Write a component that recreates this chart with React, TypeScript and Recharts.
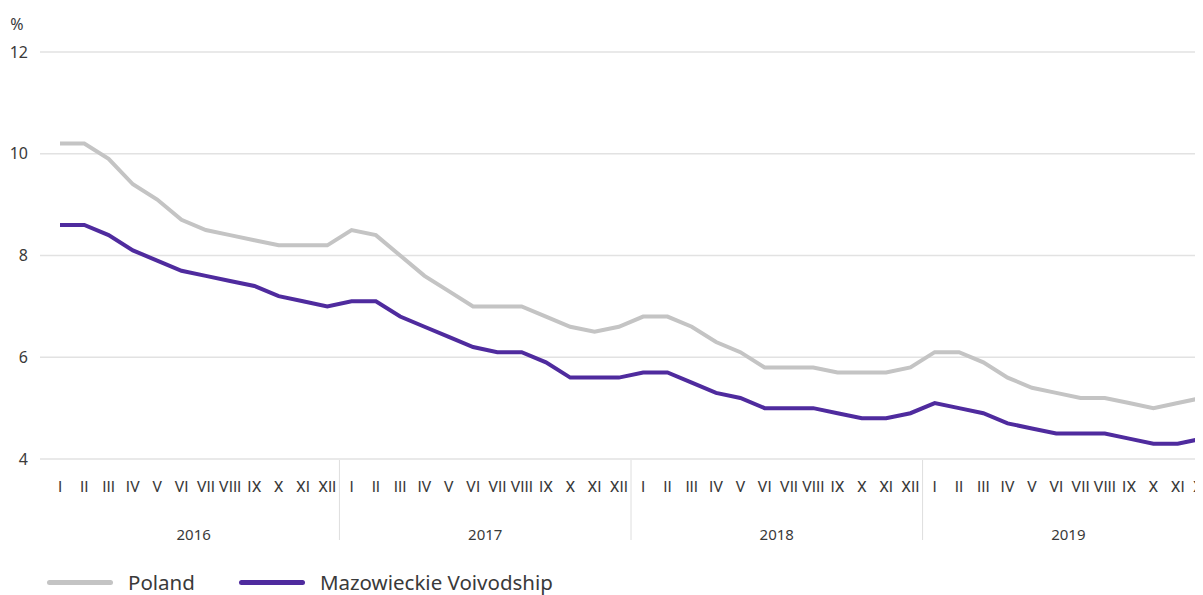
import { LineChart, Line, XAxis, YAxis, CartesianGrid, Legend } from 'recharts';

const months = ['I', 'II', 'III', 'IV', 'V', 'VI', 'VII', 'VIII', 'IX', 'X', 'XI', 'XII'];
const years = ['2016', '2017', '2018', '2019'];
const yTicks = [4, 6, 8, 10, 12];

// unemployment rate, %, monthly
const poland = [
    10.2, 10.2, 9.9, 9.4, 9.1, 8.7, 8.5, 8.4, 8.3, 8.2, 8.2, 8.2,
    8.5, 8.4, 8.0, 7.6, 7.3, 7.0, 7.0, 7.0, 6.8, 6.6, 6.5, 6.6,
    6.8, 6.8, 6.6, 6.3, 6.1, 5.8, 5.8, 5.8, 5.7, 5.7, 5.7, 5.8,
    6.1, 6.1, 5.9, 5.6, 5.4, 5.3, 5.2, 5.2, 5.1, 5.0, 5.1, 5.2,
];
const mazowieckie = [
    8.6, 8.6, 8.4, 8.1, 7.9, 7.7, 7.6, 7.5, 7.4, 7.2, 7.1, 7.0,
    7.1, 7.1, 6.8, 6.6, 6.4, 6.2, 6.1, 6.1, 5.9, 5.6, 5.6, 5.6,
    5.7, 5.7, 5.5, 5.3, 5.2, 5.0, 5.0, 5.0, 4.9, 4.8, 4.8, 4.9,
    5.1, 5.0, 4.9, 4.7, 4.6, 4.5, 4.5, 4.5, 4.4, 4.3, 4.3, 4.4,
];

const data = years.flatMap((year, yi) =>
    months.map((month, mi) => ({
        key: `${year}-${month}`,
        year,
        month,
        mi,
        poland: poland[yi * 12 + mi],
        mazowieckie: mazowieckie[yi * 12 + mi],
    }))
);

const W = 1214;
const H = 587;
const Y_W = 32;
const PAD_L = 20;
const PAD_R = 20;
const step = (W - Y_W - PAD_L - PAD_R) / (data.length - 1);

const GRAY = '#c4c4c4';
const PURPLE = '#4f2b9e';
const TEXT = '#3a3a3a';
const FONT = '"Noto Sans", "Open Sans", sans-serif';
const MONTH_FONT = 'Roboto, "Noto Sans", sans-serif';

const MonthTick = (props: any) => {
    const { x, y, payload } = props;
    return (
        <text x={x} y={y} dy={11} textAnchor="middle" fontSize={15.5} fill={TEXT} fontFamily={MONTH_FONT} style={{ fontFamily: MONTH_FONT }}>
            {payload.value}
        </text>
    );
};

const YearTick = (props: any) => {
    const { x, y, payload } = props;
    const row = data[payload.index];
    if (!row) return null;
    const left = x - step / 2;
    return (
        <g>
            {row.mi === 0 && payload.index > 0 && (
                <line x1={left} x2={left} y1={y - 44} y2={y + 36} stroke="#dedede" strokeWidth={1} />
            )}
            {row.mi === 6 && (
                <text x={left} y={y + 36} textAnchor="middle" fontSize={15} fill={TEXT} fontFamily={FONT}>
                    {row.year}
                </text>
            )}
        </g>
    );
};

const LegendContent = () => (
    <div style={{ display: 'flex', alignItems: 'center', paddingLeft: 39, paddingTop: 18, fontFamily: FONT, fontSize: 20.5, lineHeight: 1, color: TEXT }}>
        <span style={{ width: 66, height: 5, borderRadius: 3, background: GRAY, display: 'inline-block' }} />
        <span style={{ marginLeft: 15, marginRight: 44 }}>Poland</span>
        <span style={{ width: 66, height: 5, borderRadius: 3, background: PURPLE, display: 'inline-block' }} />
        <span style={{ marginLeft: 15 }}>Mazowieckie Voivodship</span>
    </div>
);

export default function App() {
    return (
        <div style={{ width: 1195, height: H, overflow: 'hidden', background: '#fff', fontFamily: FONT }}>
            <LineChart width={W} height={H} data={data} margin={{ top: 44, right: 0, bottom: 0, left: 0 }} style={{ fontFamily: FONT }}>
                <CartesianGrid vertical={false} stroke="#e2e2e2" strokeWidth={1.5} />
                <XAxis
                    xAxisId="month"
                    dataKey="month"
                    interval={0}
                    axisLine={false}
                    tickLine={false}
                    tickSize={0}
                    tickMargin={22}
                    height={45}
                    padding={{ left: PAD_L, right: PAD_R }}
                    tick={<MonthTick />}
                />
                <XAxis
                    xAxisId="year"
                    dataKey="key"
                    interval={0}
                    axisLine={false}
                    tickLine={false}
                    tickSize={0}
                    tickMargin={0}
                    height={50}
                    padding={{ left: PAD_L, right: PAD_R }}
                    tick={<YearTick />}
                />
                <YAxis
                    domain={[4, 12]}
                    ticks={yTicks}
                    width={Y_W}
                    axisLine={false}
                    tickLine={false}
                    tickSize={0}
                    tickMargin={12}
                    tick={{ fontSize: 16, fill: TEXT, fontFamily: FONT }}
                    label={{ value: '%', position: 'top', offset: 22, dx: -7, fontSize: 16, fill: TEXT, fontFamily: FONT }}
                />
                <Legend verticalAlign="bottom" height={41} content={<LegendContent />} />
                <Line xAxisId="month" type="linear" dataKey="poland" name="Poland" stroke={GRAY} strokeWidth={4} dot={false} isAnimationActive={false} />
                <Line xAxisId="month" type="linear" dataKey="mazowieckie" name="Mazowieckie Voivodship" stroke={PURPLE} strokeWidth={4} dot={false} isAnimationActive={false} />
            </LineChart>
        </div>
    );
}
